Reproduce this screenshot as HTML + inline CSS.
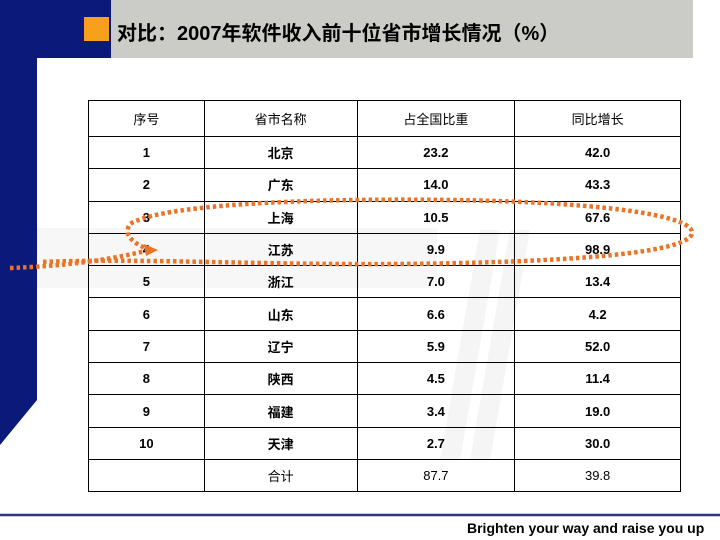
<!DOCTYPE html>
<html><head><meta charset="utf-8"><style>
body{margin:0;width:720px;height:540px;position:relative;background:#fff;overflow:hidden;font-family:"Liberation Sans","Noto Sans CJK SC",sans-serif}
.abs{position:absolute}
table{position:absolute;left:88px;top:100px;width:593px;border-collapse:collapse;font-size:13px;color:#000}
td{border:1.5px solid #000;text-align:center;height:31.3px;padding:0;font-weight:bold}
tr.h td,tr.t td{font-weight:normal}
tr.h td{height:35px}
</style></head><body>
<svg class="abs" style="left:0;top:0" width="720" height="540">
<polygon points="0,0 37,0 37,400 0,445" fill="#0b1a7a"/>
<rect x="0" y="0" width="111" height="58" fill="#0b1a7a"/>
<rect x="111" y="0" width="582" height="58" fill="#cbcbc7"/>
<rect x="84" y="17" width="25" height="24" fill="#f7a01c"/>
<rect x="37" y="228" width="400" height="60" fill="#f7f7f7"/>
<polygon points="480,230 500,230 460,460 440,460" fill="#f5f5f5"/>
<polygon points="510,230 530,230 490,460 470,460" fill="#f5f5f5"/>
<line x1="0" y1="515" x2="720" y2="515" stroke="#2a3580" stroke-width="2.5"/>
</svg>
<div class="abs" style="left:117px;top:17px;font-size:20px;font-weight:bold;color:#000">对比：2007年软件收入前十位省市增长情况（%）</div>
<table>
<colgroup><col style="width:116px"><col style="width:153px"><col style="width:158px"><col style="width:166px"></colgroup>
<tr class="h"><td>序号</td><td>省市名称</td><td>占全国比重</td><td>同比增长</td></tr>
<tr><td>1</td><td>北京</td><td>23.2</td><td>42.0</td></tr>
<tr><td>2</td><td>广东</td><td>14.0</td><td>43.3</td></tr>
<tr><td>3</td><td>上海</td><td>10.5</td><td>67.6</td></tr>
<tr><td>4</td><td>江苏</td><td>9.9</td><td>98.9</td></tr>
<tr><td>5</td><td>浙江</td><td>7.0</td><td>13.4</td></tr>
<tr><td>6</td><td>山东</td><td>6.6</td><td>4.2</td></tr>
<tr><td>7</td><td>辽宁</td><td>5.9</td><td>52.0</td></tr>
<tr><td>8</td><td>陕西</td><td>4.5</td><td>11.4</td></tr>
<tr><td>9</td><td>福建</td><td>3.4</td><td>19.0</td></tr>
<tr><td>10</td><td>天津</td><td>2.7</td><td>30.0</td></tr>
<tr class="t"><td></td><td>合计</td><td>87.7</td><td>39.8</td></tr>
</table>
<svg class="abs" style="left:0;top:0" width="720" height="540">
<path d="M10,268 C60,266 100,262 150,250 M150,250 C135,244 122,236 130,224 C160,205 300,198 450,200 C600,202 690,215 692,232 C694,250 600,262 400,264 C250,265 150,258 40,262" fill="none" stroke="#ec7326" stroke-width="4.5" stroke-dasharray="3.5 3"/>
<polygon points="158,250 144,244 146,256" fill="#ec7326"/>
</svg>
<div class="abs" style="left:467px;top:520px;font-size:14px;font-weight:bold;color:#000">Brighten your way and raise you up</div>
</body></html>
